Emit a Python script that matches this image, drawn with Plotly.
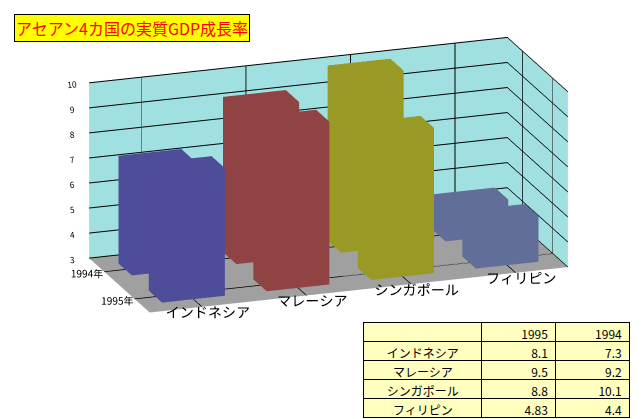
import plotly.graph_objects as go

countries = ["インドネシア", "マレーシア", "シンガポール", "フィリピン"]
years = ["1995年", "1994年"]
gdp_1995 = [8.1, 9.5, 8.8, 4.83]
gdp_1994 = [7.3, 9.2, 10.1, 4.4]
colors = ["#8080FF", "#F07070", "#FFFF40", "#A0B8FF"]
base = 3

def bar(xc, yc, h, color, w=0.3, d=0.22):
    x0, x1, y0, y1 = xc - w, xc + w, yc - d, yc + d
    xs = [x0, x1, x1, x0, x0, x1, x1, x0]
    ys = [y0, y0, y1, y1, y0, y0, y1, y1]
    zs = [base] * 4 + [h] * 4
    i = [0, 0, 4, 4, 0, 0, 1, 1, 2, 2, 3, 3]
    j = [1, 2, 5, 6, 1, 5, 2, 6, 3, 7, 0, 4]
    k = [2, 3, 6, 7, 5, 4, 6, 5, 7, 6, 4, 7]
    return go.Mesh3d(x=xs, y=ys, z=zs, i=i, j=j, k=k, color=color, flatshading=True,
                     lighting=dict(ambient=0.6, diffuse=0.8, specular=0.1),
                     lightposition=dict(x=-1000, y=-3000, z=2000), hoverinfo="skip", showscale=False)

fig = go.Figure()
for ci in range(len(countries)):
    fig.add_trace(bar(ci, 1, gdp_1994[ci], colors[ci]))
    fig.add_trace(bar(ci, 0, gdp_1995[ci], colors[ci]))

fig.add_trace(go.Table(
    domain=dict(x=[0.555, 0.97], y=[0.0, 0.25]),
    columnwidth=[1.6, 1, 1],
    header=dict(values=["", "1995", "1994"], fill_color="#FFFFC0", line_color="black",
                align=["center", "right", "right"], font=dict(size=12, color="black"), height=19),
    cells=dict(values=[countries, gdp_1995, gdp_1994], fill_color="#FFFFC0", line_color="black",
               align=["center", "right", "right"], font=dict(size=12, color="black"), height=19),
))

fig.update_layout(
    width=641, height=419, margin=dict(l=0, r=0, t=0, b=0),
    paper_bgcolor="white", showlegend=False,
    font=dict(family="Noto Sans CJK JP", color="black"),
    scene=dict(
        domain=dict(x=[0.0, 1.0], y=[0.12, 1.0]),
        aspectmode="manual", aspectratio=dict(x=2.4, y=1.0, z=1.0),
        camera=dict(eye=dict(x=-0.8, y=-2.3, z=0.7), center=dict(x=0, y=0, z=-0.1),
                    projection=dict(type="orthographic")),
        xaxis=dict(tickvals=list(range(4)), ticktext=countries, title="", range=[-0.5, 3.5],
                   showbackground=True, backgroundcolor="#A0E0E0", gridcolor="black",
                   tickangle=0, tickfont=dict(size=13)),
        yaxis=dict(tickvals=[0, 1], ticktext=years, title="", range=[-0.5, 1.5],
                   showbackground=True, backgroundcolor="#A0E0E0", gridcolor="black",
                   tickangle=0, tickfont=dict(size=11)),
        zaxis=dict(range=[3, 10], dtick=1, title="", showbackground=True,
                   backgroundcolor="#A0A0A0", gridcolor="black", tickfont=dict(size=10)),
    ),
    annotations=[dict(text="アセアン4カ国の実質GDP成長率", x=0.01, y=0.985, xref="paper", yref="paper",
                      xanchor="left", yanchor="top", showarrow=False, bgcolor="#FFFF00",
                      bordercolor="black", borderwidth=1, font=dict(size=16, color="#FF0000"))],
)

fig.write_html("out.html")
